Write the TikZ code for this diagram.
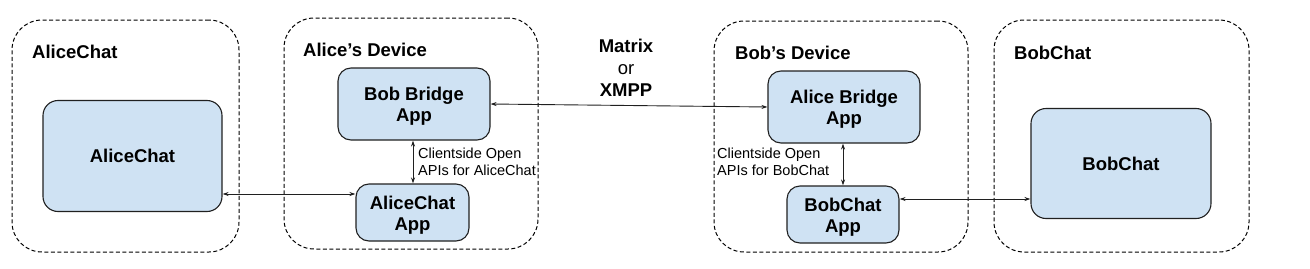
\documentclass[tikz,border=0pt]{standalone}
\usepackage{fontspec}
\setmainfont{Liberation Sans}
\usetikzlibrary{arrows.meta}
\definecolor{boxblue}{HTML}{CFE2F3}
\definecolor{edge}{HTML}{202020}
\newcommand{\topstrut}{\rule{0pt}{18.5pt}}
\begin{document}
\begin{tikzpicture}[x=1pt,y=-1pt,
  zone/.style={draw=black, line width=1pt, dash pattern=on 4pt off 2.5pt,
    rounded corners=30pt, rectangle, inner sep=0pt},
  appbox/.style={draw=edge, line width=1.1pt, fill=boxblue, rectangle,
    rounded corners=13pt, inner sep=0pt, align=center,
    font=\fontsize{18.5}{21}\selectfont\bfseries},
  ztitle/.style={anchor=base west, inner sep=0pt,
    font=\fontsize{18.5}{21}\selectfont\bfseries},
  apilabel/.style={anchor=west, inner sep=0pt, align=left,
    font=\fontsize{14.5}{17}\selectfont},
  link/.style={draw=edge, line width=0.9pt,
    {Stealth[length=6pt,width=4pt]}-{Stealth[length=6pt,width=4pt]}}
]
\useasboundingbox (0,0) rectangle (1310,268);

% zones
\node[zone, minimum width=227pt, minimum height=232pt] (zA) at (125.5,136) {};
\node[zone, minimum width=254pt, minimum height=231pt] (zAD) at (411,133.5) {};
\node[zone, minimum width=254pt, minimum height=231pt] (zBD) at (841,136.5) {};
\node[zone, minimum width=255pt, minimum height=232pt] (zB) at (1121.5,136) {};

% zone titles
\node[ztitle] (tA) at (32,58) {AliceChat};
\node[ztitle] (tAD) at (303,56) {Alice’s Device};
\node[ztitle] (tBD) at (735,59) {Bob’s Device};
\node[ztitle] (tB) at (1014,59) {BobChat};

% boxes
\node[appbox, minimum width=179pt, minimum height=111pt, rounded corners=15pt] (ac) at (132.5,156) {AliceChat};
\node[appbox, minimum width=152pt, minimum height=72pt] (bb) at (414,104) {\topstrut Bob Bridge\\App};
\node[appbox, minimum width=113pt, minimum height=57pt] (acapp) at (412.5,212.5) {\topstrut AliceChat\\App};
\node[appbox, minimum width=152pt, minimum height=72pt] (ab) at (844,107) {\topstrut Alice Bridge\\App};
\node[appbox, minimum width=112pt, minimum height=57pt] (bcapp) at (843,214.5) {\topstrut BobChat\\App};
\node[appbox, minimum width=180pt, minimum height=110pt, rounded corners=15pt] (bc) at (1121,163.5) {BobChat};

% protocol label
\node[inner sep=0pt, align=center, font=\fontsize{18.5}{22}\selectfont] (proto) at (626,67.5)
  {\bfseries Matrix\\or\\\bfseries XMPP};

% api labels
\node[apilabel] (apiA) at (418,161.5) {Clientside Open\\APIs for AliceChat};
\node[apilabel] (apiB) at (717,161.5) {Clientside Open\\APIs for BobChat};

% connectors
\coordinate (yA) at (0,194);
\coordinate (yB) at (0,199);
\coordinate (xA) at (413,0);
\coordinate (xB) at (843,0);
\draw[link] (ac.east |- yA) -- (acapp.west |- yA);
\draw[link] (bb.south -| xA) -- (acapp.north -| xA);
\draw[link] (bb.east) -- (ab.west);
\draw[link] (ab.south -| xB) -- (bcapp.north -| xB);
\draw[link] (bcapp.east |- yB) -- (bc.west |- yB);
\end{tikzpicture}
\end{document}
